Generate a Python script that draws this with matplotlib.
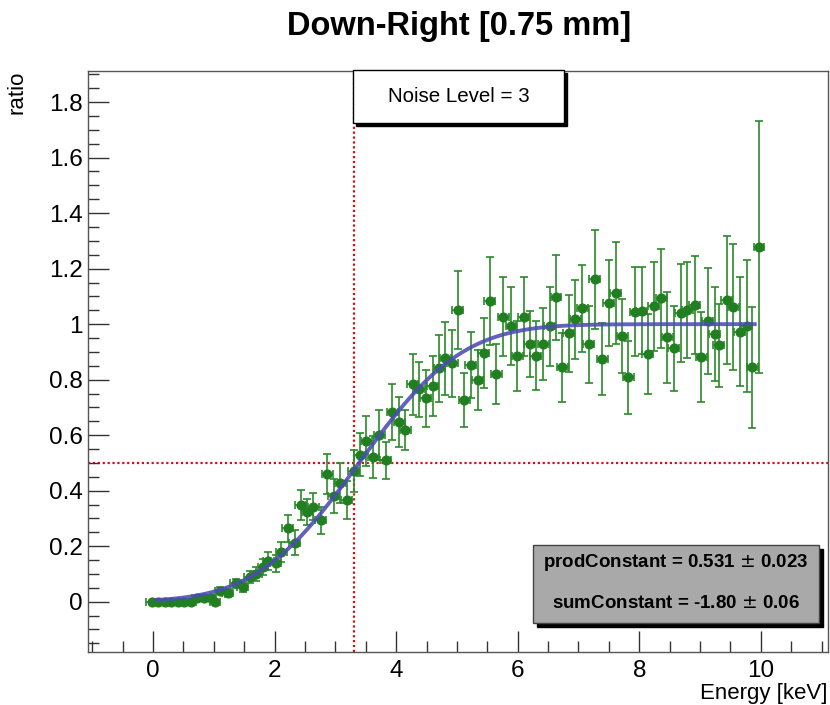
import math
import numpy as np
import matplotlib
matplotlib.use('Agg')
import matplotlib.pyplot as plt
from matplotlib.patches import Rectangle
from matplotlib.ticker import MultipleLocator, FormatStrFormatter

plt.rc('font', family=['Liberation Sans', 'DejaVu Sans'])

# measured ratio vs energy
energy = [-0.02, 0.09, 0.19, 0.30, 0.41, 0.51, 0.62, 0.73, 0.84, 0.95,
          1.02, 1.11, 1.23, 1.36, 1.48, 1.59, 1.70, 1.81, 1.90, 2.02,
          2.11, 2.22, 2.33, 2.43, 2.54, 2.64, 2.76, 2.87, 2.97, 3.08,
          3.19, 3.30, 3.40, 3.51, 3.62, 3.72, 3.83, 3.94, 4.05, 4.15,
          4.27, 4.38, 4.49, 4.60, 4.71, 4.81, 4.92, 5.01, 5.12, 5.23,
          5.34, 5.44, 5.54, 5.65, 5.76, 5.89, 5.99, 6.10, 6.20, 6.30,
          6.42, 6.53, 6.63, 6.73, 6.84, 6.95, 7.06, 7.17, 7.27, 7.39,
          7.50, 7.61, 7.72, 7.82, 7.93, 8.04, 8.14, 8.24, 8.36, 8.46,
          8.57, 8.68, 8.79, 8.91, 9.02, 9.13, 9.24, 9.31, 9.44, 9.55,
          9.65, 9.77, 9.86, 9.97]
ratio = [0, 0, 0, 0, 0, 0, 0, 0.012, 0.013, 0.012,
         0.0, 0.040, 0.032, 0.066, 0.054, 0.090, 0.100, 0.126, 0.148, 0.138,
         0.180, 0.264, 0.213, 0.348, 0.323, 0.343, 0.293, 0.461, 0.380, 0.426,
         0.367, 0.470, 0.530, 0.579, 0.522, 0.600, 0.510, 0.684, 0.648, 0.618,
         0.784, 0.765, 0.733, 0.777, 0.841, 0.877, 0.859, 1.051, 0.727, 0.853,
         0.799, 0.897, 1.083, 0.820, 1.027, 0.993, 0.885, 1.027, 0.928, 0.886,
         0.928, 0.993, 1.097, 0.844, 0.967, 1.017, 1.057, 0.928, 1.161, 0.873,
         1.077, 1.111, 0.957, 0.808, 1.045, 1.048, 0.892, 1.064, 1.093, 0.952,
         0.913, 1.039, 1.051, 1.069, 0.883, 1.012, 0.964, 0.924, 1.087, 1.063,
         0.973, 0.993, 0.844, 1.278]
ratio_err = [0, 0, 0, 0, 0, 0, 0.004, 0.010, 0.010, 0.010,
             0.005, 0.013, 0.014, 0.016, 0.018, 0.022, 0.024, 0.028, 0.032, 0.032,
             0.036, 0.050, 0.044, 0.054, 0.046, 0.050, 0.050, 0.072, 0.062, 0.072,
             0.068, 0.075, 0.078, 0.090, 0.076, 0.089, 0.067, 0.100, 0.090, 0.072,
             0.110, 0.100, 0.103, 0.108, 0.120, 0.131, 0.121, 0.140, 0.096, 0.120,
             0.109, 0.126, 0.158, 0.107, 0.142, 0.140, 0.125, 0.143, 0.120, 0.124,
             0.130, 0.142, 0.153, 0.125, 0.138, 0.141, 0.156, 0.139, 0.178, 0.130,
             0.155, 0.184, 0.132, 0.130, 0.161, 0.157, 0.144, 0.161, 0.178, 0.164,
             0.154, 0.176, 0.172, 0.177, 0.162, 0.190, 0.170, 0.149, 0.230, 0.227,
             0.197, 0.239, 0.219, 0.455]
energy_err = 0.09

# fit result shown in the stats box
prod_constant = 0.531
prod_error = 0.023
sum_constant = -1.80
sum_error = 0.06
fit_range = (0.05, 9.9)
threshold = 3.30
noise_level = 3

fig = plt.figure(figsize=(8.3, 7.05), dpi=100)
ax = fig.add_axes([0.106, 0.0756, 0.8912, 0.8237])

green = '#217f21'
red = '#cc1414'

ax.axvline(threshold, color=red, lw=1.6, ls=(0, (1, 1.2)), zorder=1)
ax.axhline(0.5, color=red, lw=1.6, ls=(0, (1, 1.2)), zorder=1)

ax.errorbar(energy, ratio, xerr=energy_err, yerr=ratio_err, fmt='o', ms=6.3,
            color=green, ecolor='#2a8a2a', elinewidth=1.2, capsize=2.6,
            capthick=1.2, zorder=2)

xf = np.linspace(fit_range[0], fit_range[1], 300)
yf = [0.5 * (1 + math.erf(prod_constant * v + sum_constant)) for v in xf]
ax.plot(xf, yf, color='#4c4cb4', lw=2.8, alpha=0.88, zorder=3)

ax.set_xlim(-1.07, 11.1)
ax.set_ylim(-0.18, 1.912)

ax.xaxis.set_major_locator(MultipleLocator(2))
ax.xaxis.set_minor_locator(MultipleLocator(0.5))
ax.yaxis.set_major_locator(MultipleLocator(0.2))
ax.yaxis.set_minor_locator(MultipleLocator(0.05))
ax.xaxis.set_major_formatter(FormatStrFormatter('%g'))
ax.yaxis.set_major_formatter(FormatStrFormatter('%g'))

ax.tick_params(which='both', direction='in', top=False, right=False,
               color='#333333', labelsize=17.5)
ax.tick_params(which='major', length=15, width=1)
ax.tick_params(which='minor', length=8, width=1)
ax.tick_params(axis='x', pad=6)
ax.tick_params(axis='y', pad=4)
for s in ax.spines.values():
    s.set_color('#555555')
    s.set_linewidth(1)

ax.set_xlabel('Energy [keV]', fontsize=16, loc='right')
ax.set_ylabel('ratio', fontsize=16, loc='top')
ax.xaxis.set_label_coords(1.0, -0.054)
ax.yaxis.set_label_coords(-0.082, 1.0)

fig.text(0.553, 0.963, 'Down-Right [0.75 mm]', fontsize=23.5,
         fontweight='bold', ha='center', va='center')

# noise level box with shadow
fig.add_artist(Rectangle((0.4295, 0.8210), 0.2536, 0.0756,
                         transform=fig.transFigure, color='black', zorder=5))
fig.add_artist(Rectangle((0.4259, 0.8251), 0.2536, 0.0756,
                         transform=fig.transFigure, facecolor='white',
                         edgecolor='black', lw=1, zorder=6))
fig.text(0.5527, 0.8629, 'Noise Level = %d' % noise_level, fontsize=14.8,
         ha='center', va='center', zorder=7)

# stats box with shadow
fig.add_artist(Rectangle((0.6474, 0.1110), 0.3441, 0.1103,
                         transform=fig.transFigure, color='black', zorder=5))
fig.add_artist(Rectangle((0.6426, 0.1167), 0.3441, 0.1103,
                         transform=fig.transFigure, facecolor='#a9a9a9',
                         edgecolor='#444444', lw=1, zorder=6))
fig.text(0.8146, 0.2015,
         'prodConstant = %.3f $\\pm$ %.3f' % (prod_constant, prod_error),
         fontsize=13.5, fontweight='bold', ha='center', va='center', zorder=7)
fig.text(0.8146, 0.1433,
         'sumConstant = %.2f $\\pm$ %.2f' % (sum_constant, sum_error),
         fontsize=13.5, fontweight='bold', ha='center', va='center', zorder=7)

fig.savefig('out.png', dpi=100)
